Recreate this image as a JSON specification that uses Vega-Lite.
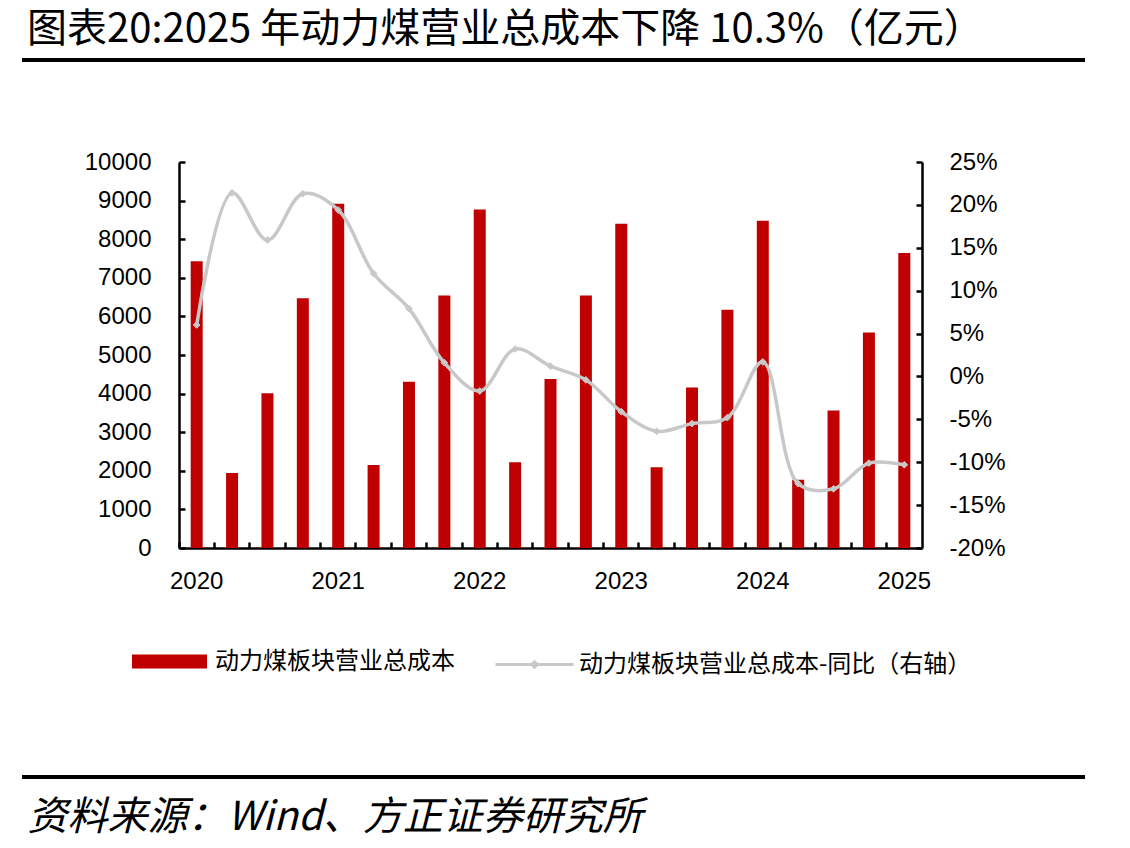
{
  "$schema": "https://vega.github.io/schema/vega-lite/v6.json",
  "width": 743,
  "height": 386,
  "autosize": {"type": "none"},
  "padding": {"left": 179, "top": 162, "right": 208, "bottom": 300},
  "background": "white",
  "config": {
    "view": {"stroke": null},
    "font": "Liberation Sans",
    "axis": {
      "labelFont": "Liberation Sans",
      "labelFontSize": 24,
      "labelColor": "black",
      "domainColor": "black",
      "domainWidth": 2.5,
      "tickColor": "black",
      "tickWidth": 2.5,
      "grid": false
    }
  },
  "title": {
    "text": "图表20:2025 年动力煤营业总成本下降 10.3%（亿元）",
    "anchor": "start",
    "frame": "group",
    "dx": -152,
    "offset": 8,
    "font": "Noto Sans CJK SC",
    "fontSize": 40,
    "fontWeight": "normal",
    "color": "black"
  },
  "datasets": {
    "quarters": [
      {"q": "2020Q1", "cost": 7430, "yoy": 6.0},
      {"q": "2020Q2", "cost": 1940, "yoy": 21.4},
      {"q": "2020Q3", "cost": 4010, "yoy": 15.9},
      {"q": "2020Q4", "cost": 6470, "yoy": 21.3},
      {"q": "2021Q1", "cost": 8920, "yoy": 19.4},
      {"q": "2021Q2", "cost": 2150, "yoy": 12.0},
      {"q": "2021Q3", "cost": 4310, "yoy": 7.9},
      {"q": "2021Q4", "cost": 6540, "yoy": 1.6},
      {"q": "2022Q1", "cost": 8770, "yoy": -1.7},
      {"q": "2022Q2", "cost": 2220, "yoy": 3.2},
      {"q": "2022Q3", "cost": 4380, "yoy": 1.2},
      {"q": "2022Q4", "cost": 6540, "yoy": -0.4},
      {"q": "2023Q1", "cost": 8400, "yoy": -4.1},
      {"q": "2023Q2", "cost": 2090, "yoy": -6.4},
      {"q": "2023Q3", "cost": 4160, "yoy": -5.5},
      {"q": "2023Q4", "cost": 6170, "yoy": -4.8},
      {"q": "2024Q1", "cost": 8480, "yoy": 1.7},
      {"q": "2024Q2", "cost": 1770, "yoy": -12.5},
      {"q": "2024Q3", "cost": 3560, "yoy": -13.1},
      {"q": "2024Q4", "cost": 5580, "yoy": -10.1},
      {"q": "2025Q1", "cost": 7640, "yoy": -10.3}
    ],
    "frame": [{"part": "rule"}]
  },
  "data": {"name": "quarters"},
  "layer": [
    {
      "mark": {"type": "bar", "width": 12},
      "encoding": {
        "x": {
          "field": "q",
          "type": "ordinal",
          "sort": null,
          "scale": {"paddingInner": 0, "paddingOuter": 0},
          "axis": {
            "orient": "bottom",
            "bandPosition": 0,
            "tickSize": -6,
            "labelAngle": 0,
            "labelPadding": 27,
            "labelOverlap": false,
            "labelExpr": "indexof(datum.value, 'Q1') > 0 ? substring(datum.value, 0, 4) : ''",
            "title": "资料来源：Wind、方正证券研究所",
            "titleFont": "Noto Sans CJK SC",
            "titleFontSize": 40,
            "titleFontStyle": "italic",
            "titleFontWeight": "normal",
            "titleColor": "black",
            "titleAnchor": "start",
            "titleAlign": "left",
            "titleBaseline": "alphabetic",
            "titleX": -152,
            "titleY": 281
          }
        },
        "y": {
          "field": "cost",
          "type": "quantitative",
          "scale": {"domain": [0, 10000], "nice": false},
          "axis": {
            "orient": "left",
            "values": [0, 1000, 2000, 3000, 4000, 5000, 6000, 7000, 8000, 9000, 10000],
            "format": "d",
            "tickSize": -6,
            "labelPadding": 34,
            "title": null
          }
        },
        "fill": {
          "datum": "动力煤板块营业总成本",
          "type": "nominal",
          "scale": {"range": ["#c00000"]},
          "legend": {
            "orient": "none",
            "legendX": -47,
            "legendY": 462,
            "title": null,
            "padding": 0,
            "symbolType": "M-1,-0.187H1V0.187H-1Z",
            "symbolSize": 5625,
            "symbolStrokeWidth": 0,
            "labelFont": "Noto Sans CJK SC",
            "labelFontSize": 24,
            "labelColor": "black",
            "labelLimit": 600,
            "labelOffset": 8
          }
        }
      }
    },
    {
      "mark": {
        "type": "line",
        "interpolate": "catmull-rom",
        "strokeWidth": 3.5,
        "point": {"filled": true, "shape": "diamond", "size": 45, "fill": "#c8c8c8", "stroke": "#c8c8c8", "strokeWidth": 1}
      },
      "encoding": {
        "x": {"field": "q", "type": "ordinal", "sort": null},
        "y": {
          "field": "yoy",
          "type": "quantitative",
          "scale": {"domain": [-20, 25], "nice": false},
          "axis": {
            "orient": "right",
            "values": [-20, -15, -10, -5, 0, 5, 10, 15, 20, 25],
            "labelExpr": "datum.value + '%'",
            "tickSize": -6,
            "labelPadding": 33,
            "title": null
          }
        },
        "stroke": {
          "datum": "动力煤板块营业总成本-同比（右轴）",
          "type": "nominal",
          "scale": {"range": ["#c8c8c8"]},
          "legend": {
            "orient": "none",
            "legendX": 315,
            "legendY": 462,
            "title": null,
            "padding": 0,
            "symbolType": "M-1,0H1M-0.07,0L0,-0.07L0.07,0L0,0.07Z",
            "symbolSize": 6084,
            "symbolStrokeWidth": 3,
            "symbolFillColor": "#c8c8c8",
            "labelFont": "Noto Sans CJK SC",
            "labelFontSize": 24,
            "labelColor": "black",
            "labelLimit": 600,
            "labelOffset": 4
          }
        }
      }
    },
    {
      "data": {"name": "frame"},
      "mark": {"type": "rule", "color": "black", "strokeWidth": 4},
      "encoding": {
        "x": {"value": -157},
        "x2": {"value": 906},
        "y": {"value": -102}
      }
    },
    {
      "data": {"name": "frame"},
      "mark": {"type": "rule", "color": "black", "strokeWidth": 4},
      "encoding": {
        "x": {"value": -157},
        "x2": {"value": 906},
        "y": {"value": 615}
      }
    }
  ],
  "resolve": {"scale": {"y": "independent", "fill": "independent", "stroke": "independent"}}
}
